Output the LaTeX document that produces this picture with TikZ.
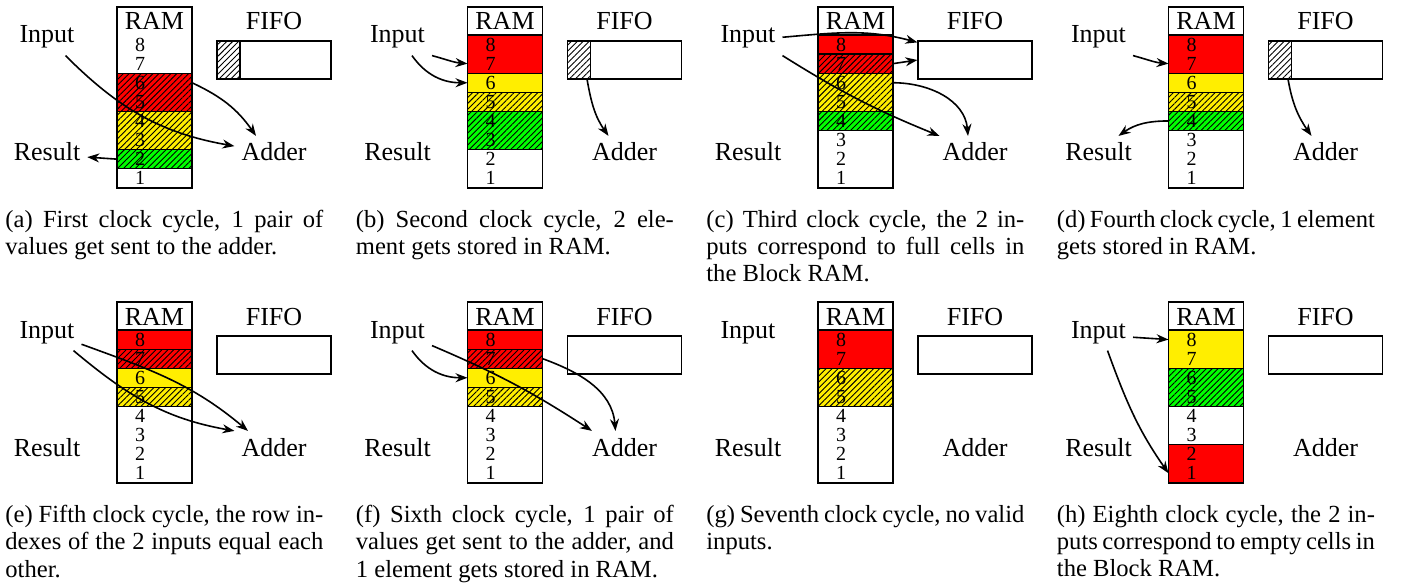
\documentclass[tikz,border=0pt]{standalone}
\usepackage{fontspec}
\setmainfont{Liberation Serif}
\usetikzlibrary{arrows.meta,patterns.meta}
\definecolor{cellred}{RGB}{255,0,0}
\definecolor{cellyellow}{RGB}{255,238,0}
\definecolor{cellgreen}{RGB}{0,255,0}

% one justified caption line
\newcommand\jl[1]{\makebox[159pt][s]{#1}}
% a block of RAM rows, from row #1 down to row #2
\newcommand\ramrows[3]{\draw[cell,#3] (117,{-35-(8-#1)*19.1}) rectangle (192,{-35-(9-#2)*19.1});}
% the occupied first slot of the FIFO
\newcommand\fifoslot[1]{\node[slotbox] (#1slot) at (228.5,-60) {};}
% labels, RAM column and FIFO of one panel
\newcommand\ramframe[1]{%
  \node[lbl] (#1in) at (47,-43) {Input};
  \node[lbl] (#1res) at (47,-161) {Result};
  \node[lbl] (#1add) at (274,-161) {Adder};
  \node[lbl] (#1ramt) at (154.5,-30) {RAM};
  \node[lbl] (#1fifot) at (274,-30) {FIFO};
  \node[ramcol] (#1ram) at (154.5,-97.5) {};
  \node[fifobox] (#1fifo) at (274,-60) {};
  \foreach \k in {1,...,8} {
    \node[digit] (#1n\k) at (140,{-44.55-(8-\k)*19.1}) {\k};
    \coordinate (#1l\k) at (117,{-44.55-(8-\k)*19.1});
    \coordinate (#1r\k) at (192,{-44.55-(8-\k)*19.1});
  }%
}

\begin{document}
\begin{tikzpicture}[
    x=0.5pt, y=0.5pt,
    lbl/.style={anchor=base, font=\fontsize{13}{15}\selectfont},
    digit/.style={inner sep=0, font=\fontsize{10}{10}\selectfont},
    ramcol/.style={draw, line width=0.6pt, minimum width=37.5pt, minimum height=90.5pt, inner sep=0},
    fifobox/.style={draw, line width=0.6pt, minimum width=57pt, minimum height=19pt, inner sep=0},
    slotbox/.style={draw, line width=0.6pt, pattern={Lines[angle=45,distance=2.1pt,line width=0.45pt]}, minimum width=11.5pt, minimum height=19pt, inner sep=0},
    cell/.style={draw, line width=0.6pt},
    redcell/.style={fill=cellred},
    yelcell/.style={fill=cellyellow},
    grncell/.style={fill=cellgreen},
    hatch/.style={postaction={pattern={Lines[angle=45,distance=2.1pt,line width=0.45pt]}}},
    flow/.style={-{Stealth[length=6pt,width=4.5pt]}, line width=0.8pt},
    capbox/.style={anchor=north west, inner sep=0, align=left, font=\fontsize{12.3}{13.6}\selectfont}
]
    \useasboundingbox (0,0) rectangle (1402,-583);

    % (a) first cycle
    \begin{scope}
        \ramrows{6}{5}{redcell,hatch}
        \ramrows{4}{3}{yelcell,hatch}
        \ramrows{2}{2}{grncell,hatch}
        \fifoslot{a}
        \ramframe{a}
        \draw[flow] ([xshift=-8pt]ain.south east) to[out=-45,in=170] ([yshift=3pt]aadd.west);
        \draw[flow] (ar6) to[out=-25,in=125] ([xshift=-9pt]aadd.north);
        \draw[flow] (al2) -- ([yshift=-2.5pt]ares.east);
        \node[capbox] (acap) at (5,-210) {\jl{(a) First clock cycle, 1 pair of}\\values get sent to the adder.};
    \end{scope}

    % (b) second cycle
    \begin{scope}[shift={(350.5,0)}]
        \ramrows{8}{7}{redcell}
        \ramrows{6}{6}{yelcell}
        \ramrows{5}{5}{yelcell,hatch}
        \ramrows{4}{3}{grncell,hatch}
        \fifoslot{b}
        \ramframe{b}
        \draw[flow] (bin.south east) to[out=-15,in=175] (bl7);
        \draw[flow] ([xshift=-10pt]bin.south east) to[out=-55,in=180] (bl6);
        \draw[flow] ([xshift=-2pt]bslot.south east) to[out=-80,in=125] ([xshift=-8pt]badd.north);
        \node[capbox] (bcap) at (5,-210) {\jl{(b) Second clock cycle, 2 ele-}\\ment gets stored in RAM.};
    \end{scope}

    % (c) third cycle
    \begin{scope}[shift={(701,0)}]
        \ramrows{8}{8}{redcell}
        \ramrows{7}{7}{redcell,hatch}
        \ramrows{6}{5}{yelcell,hatch}
        \ramrows{4}{4}{grncell,hatch}
        \ramframe{c}
        \draw[flow] (cin.east) to[out=5,in=165] ([yshift=-1pt]cfifo.north west);
        \draw[flow] (cr7) -- (cfifo.west);
        \draw[flow] (cin.south east) to[bend right=5] ([xshift=2pt]cadd.north west);
        \draw[flow] (cr6) to[out=0,in=95] ([xshift=-3.5pt]cadd.north);
        \node[capbox] (ccap) at (5,-210) {\jl{(c) Third clock cycle, the 2 in-}\\\jl{puts correspond to full cells in}\\the Block RAM.};
    \end{scope}

    % (d) fourth cycle
    \begin{scope}[shift={(1051.5,0)}]
        \ramrows{8}{7}{redcell}
        \ramrows{6}{6}{yelcell}
        \ramrows{5}{5}{yelcell,hatch}
        \ramrows{4}{4}{grncell,hatch}
        \fifoslot{d}
        \ramframe{d}
        \draw[flow] (din.south east) to[out=-15,in=175] (dl7);
        \draw[flow] (dl4) to[out=180,in=35] ([xshift=10pt]dres.north);
        \draw[flow] ([xshift=-2pt]dslot.south east) to[out=-80,in=125] ([xshift=-7pt]dadd.north);
        \node[capbox] (dcap) at (5,-210) {\jl{(d) Fourth clock cycle, 1 element}\\gets stored in RAM.};
    \end{scope}

    % (e) fifth cycle
    \begin{scope}[shift={(0,-295)}]
        \ramrows{8}{8}{redcell}
        \ramrows{7}{7}{redcell,hatch}
        \ramrows{6}{6}{yelcell}
        \ramrows{5}{5}{yelcell,hatch}
        \ramframe{e}
        \draw[flow] ([yshift=-6pt]ein.east) to[out=-20,in=140] ([xshift=-13pt]eadd.north);
        \draw[flow] ([xshift=-4pt]ein.south east) to[out=-40,in=170] (eadd.north west);
        \node[capbox] (ecap) at (5,-210) {\jl{(e) Fifth clock cycle, the row in-}\\\jl{dexes of the 2 inputs equal each}\\other.};
    \end{scope}

    % (f) sixth cycle
    \begin{scope}[shift={(350.5,-295)}]
        \ramrows{8}{8}{redcell}
        \ramrows{7}{7}{redcell,hatch}
        \ramrows{6}{6}{yelcell}
        \ramrows{5}{5}{yelcell,hatch}
        \ramframe{f}
        \draw[flow] ([xshift=-10pt]fin.south east) to[out=-55,in=180] (fl6);
        \draw[flow] ([yshift=2.5pt]fin.south east) to[bend left=5] ([xshift=3.5pt]fadd.north west);
        \draw[flow] (fr7) to[out=-20,in=95] ([xshift=-4.5pt]fadd.north);
        \node[capbox] (fcap) at (5,-210) {\jl{(f) Sixth clock cycle, 1 pair of}\\\jl{values get sent to the adder, and}\\1 element gets stored in RAM.};
    \end{scope}

    % (g) seventh cycle
    \begin{scope}[shift={(701,-295)}]
        \ramrows{8}{7}{redcell}
        \ramrows{6}{5}{yelcell,hatch}
        \ramframe{g}
        \node[capbox] (gcap) at (5,-210) {\jl{(g) Seventh clock cycle, no valid}\\inputs.};
    \end{scope}

    % (h) eighth cycle
    \begin{scope}[shift={(1051.5,-295)}]
        \ramrows{8}{7}{yelcell}
        \ramrows{6}{5}{grncell,hatch}
        \ramrows{2}{1}{redcell}
        \ramframe{h}
        \draw[flow] ([yshift=-2.5pt]hin.east) -- (hl8);
        \draw[flow] ([xshift=4.5pt]hin.south) to[out=-70,in=125] (hl1);
        \node[capbox] (hcap) at (5,-210) {\jl{(h) Eighth clock cycle, the 2 in-}\\\jl{puts correspond to empty cells in}\\the Block RAM.};
    \end{scope}
\end{tikzpicture}
\end{document}
